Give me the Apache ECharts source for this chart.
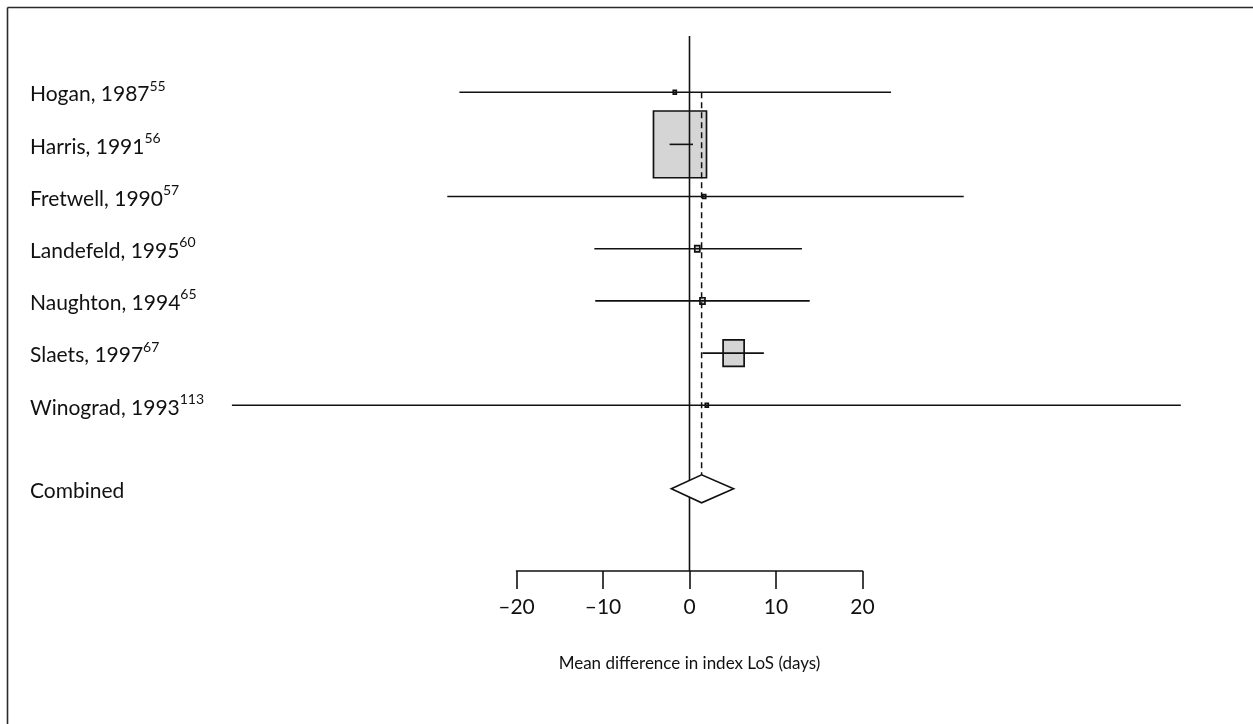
<!DOCTYPE html>
<html>
<head>
<meta charset="utf-8">
<script src="https://cdn.jsdelivr.net/npm/echarts@6/dist/echarts.min.js"></script>
<style>
  html, body { margin: 0; padding: 0; background: #ffffff; }
  #chart { width: 1253px; height: 724px; }
</style>
</head>
<body>
<div id="chart"></div>
<script>
// Studies in the meta-analysis of index length of stay
const studies = ['Hogan, 1987', 'Harris, 1991', 'Fretwell, 1990', 'Landefeld, 1995', 'Naughton, 1994', 'Slaets, 1997', 'Winograd, 1993'];
const refNumbers = ['55', '56', '57', '60', '65', '67', '113'];
// Mean difference (days) and 95% confidence limits
const meanDiff = [-1.7, -1.1, 1.7, 0.9, 1.5, 5.1, 2.0];
const ciLower = [-26.6, -2.3, -28.0, -11.0, -10.9, 1.5, -52.9];
const ciUpper = [23.3, 0.4, 31.7, 13.0, 13.9, 8.6, 56.8];
// Study weights (%)
const weights = [0.27, 84.4, 0.27, 0.75, 0.75, 13.3, 0.27];
// Pooled estimate: [mean, lower, upper]
const combinedLabel = 'Combined';
const combinedEstimate = [1.4, -2.1, 5.1];
// Axis
const xTicks = [-20, -10, 0, 10, 20];
const axisTitle = 'Mean difference in index LoS (days)';

// ---- layout ----
const FONT = 'Lato, "Open Sans", sans-serif';
const Y_MIN = -1.077, Y_MAX = 9.176;    // plot rows run from top of chart to the axis line
const COMBINED_ROW = 7.6;
const BOX_SCALE = 5.77;                  // px per sqrt(weight %)
const BOX_ASPECT = 1.26;                 // height / width of study boxes
const DIAMOND_HALF = 14;
const INK = '#111111';

const studyData = studies.map((s, i) => [meanDiff[i], i, ciLower[i], ciUpper[i], weights[i]]);
const labelData = studies.map((s, i) => [0, i, '{n|' + s + '}{s|' + refNumbers[i] + '}'])
  .concat([[0, COMBINED_ROW, '{n|' + combinedLabel + '}']]);

function boxItem(params, api) {
  const c = api.coord([api.value(0), api.value(1)]);
  const w = BOX_SCALE * Math.sqrt(api.value(4));
  const h = w * BOX_ASPECT;
  return {
    type: 'rect',
    shape: { x: c[0] - w / 2, y: c[1] - h / 2, width: w, height: h },
    style: { fill: '#d5d5d5', stroke: INK, lineWidth: 1.7 }
  };
}

function ciItem(params, api) {
  const y = api.value(1);
  const lo = api.coord([api.value(2), y]);
  const hi = api.coord([api.value(3), y]);
  return {
    type: 'line',
    shape: { x1: lo[0], y1: lo[1], x2: hi[0], y2: hi[1] },
    style: { stroke: INK, lineWidth: 1.6 }
  };
}

function zeroLineItem(params, api) {
  const a = api.coord([api.value(0), Y_MIN]);
  const b = api.coord([api.value(0), Y_MAX]);
  return {
    type: 'line',
    shape: { x1: a[0], y1: a[1], x2: b[0], y2: b[1] },
    style: { stroke: INK, lineWidth: 1.6 }
  };
}

function pooledLineItem(params, api) {
  const a = api.coord([api.value(0), 0]);
  const b = api.coord([api.value(0), COMBINED_ROW]);
  return {
    type: 'line',
    shape: { x1: a[0], y1: a[1], x2: b[0], y2: b[1] - DIAMOND_HALF },
    style: { stroke: INK, lineWidth: 1.5, lineDash: [6, 4] }
  };
}

function diamondItem(params, api) {
  const y = api.value(1);
  const m = api.coord([api.value(0), y]);
  const lo = api.coord([api.value(2), y]);
  const hi = api.coord([api.value(3), y]);
  return {
    type: 'polygon',
    shape: { points: [[lo[0], lo[1]], [m[0], m[1] - DIAMOND_HALF], [hi[0], hi[1]], [m[0], m[1] + DIAMOND_HALF]] },
    style: { fill: '#ffffff', stroke: INK, lineWidth: 1.6 }
  };
}

function labelItem(params, api) {
  const c = api.coord([0, api.value(1)]);
  return {
    type: 'text',
    x: 30,
    y: c[1],
    style: {
      text: labelData[params.dataIndex][2],
      verticalAlign: 'middle',
      align: 'left',
      rich: {
        n: { fontFamily: FONT, fontSize: 21, fill: INK, lineHeight: 26, verticalAlign: 'bottom' },
        s: { fontFamily: FONT, fontSize: 14, fill: INK, lineHeight: 26, verticalAlign: 'top' }
      }
    }
  };
}

const chart = echarts.init(document.getElementById('chart'), null, { renderer: 'canvas' });

chart.setOption({
  backgroundColor: '#ffffff',
  animation: false,
  graphic: [
    { type: 'line', shape: { x1: 7.5, y1: 7.5, x2: 1253, y2: 7.5 }, style: { stroke: '#2a2a2a', lineWidth: 1.6 } },
    { type: 'line', shape: { x1: 7.5, y1: 7.5, x2: 7.5, y2: 724 }, style: { stroke: '#2a2a2a', lineWidth: 1.6 } }
  ],
  grid: [
    { left: 170.5, width: 1038, top: 36, height: 535, outerBoundsMode: 'none', containLabel: false },
    { left: 516.5, width: 346, top: 560, height: 11, outerBoundsMode: 'none', containLabel: false }
  ],
  xAxis: [
    { type: 'value', gridIndex: 0, min: -60, max: 60, show: false },
    {
      type: 'value', gridIndex: 1, min: xTicks[0], max: xTicks[xTicks.length - 1],
      interval: xTicks[1] - xTicks[0],
      position: 'bottom',
      axisLine: { show: true, onZero: false, lineStyle: { color: INK, width: 1.6 } },
      axisTick: { show: true, inside: false, length: 18, lineStyle: { color: INK, width: 1.6 } },
      splitLine: { show: false },
      axisLabel: {
        margin: 26, fontFamily: FONT, fontSize: 21, color: INK,
        formatter: v => String(v).replace('-', '\u2013')
      },
      name: axisTitle,
      nameLocation: 'middle',
      nameGap: 84,
      nameTextStyle: { fontFamily: FONT, fontSize: 17, color: INK }
    }
  ],
  yAxis: [
    { type: 'value', gridIndex: 0, min: Y_MIN, max: Y_MAX, inverse: true, show: false },
    { type: 'value', gridIndex: 1, show: false }
  ],
  series: [
    { type: 'custom', name: 'weights', z: 1, renderItem: boxItem, data: studyData, silent: true },
    { type: 'custom', name: 'no effect', z: 2, renderItem: zeroLineItem, data: [[0]], silent: true },
    { type: 'custom', name: 'pooled', z: 2, renderItem: pooledLineItem, data: [[combinedEstimate[0]]], silent: true },
    { type: 'custom', name: 'ci', z: 3, renderItem: ciItem, data: studyData, silent: true },
    { type: 'custom', name: 'combined', z: 3, renderItem: diamondItem,
      data: [[combinedEstimate[0], COMBINED_ROW, combinedEstimate[1], combinedEstimate[2]]], silent: true },
    { type: 'custom', name: 'labels', z: 3, renderItem: labelItem, data: labelData.map(d => [d[0], d[1]]), silent: true }
  ]
});
</script>
</body>
</html>
